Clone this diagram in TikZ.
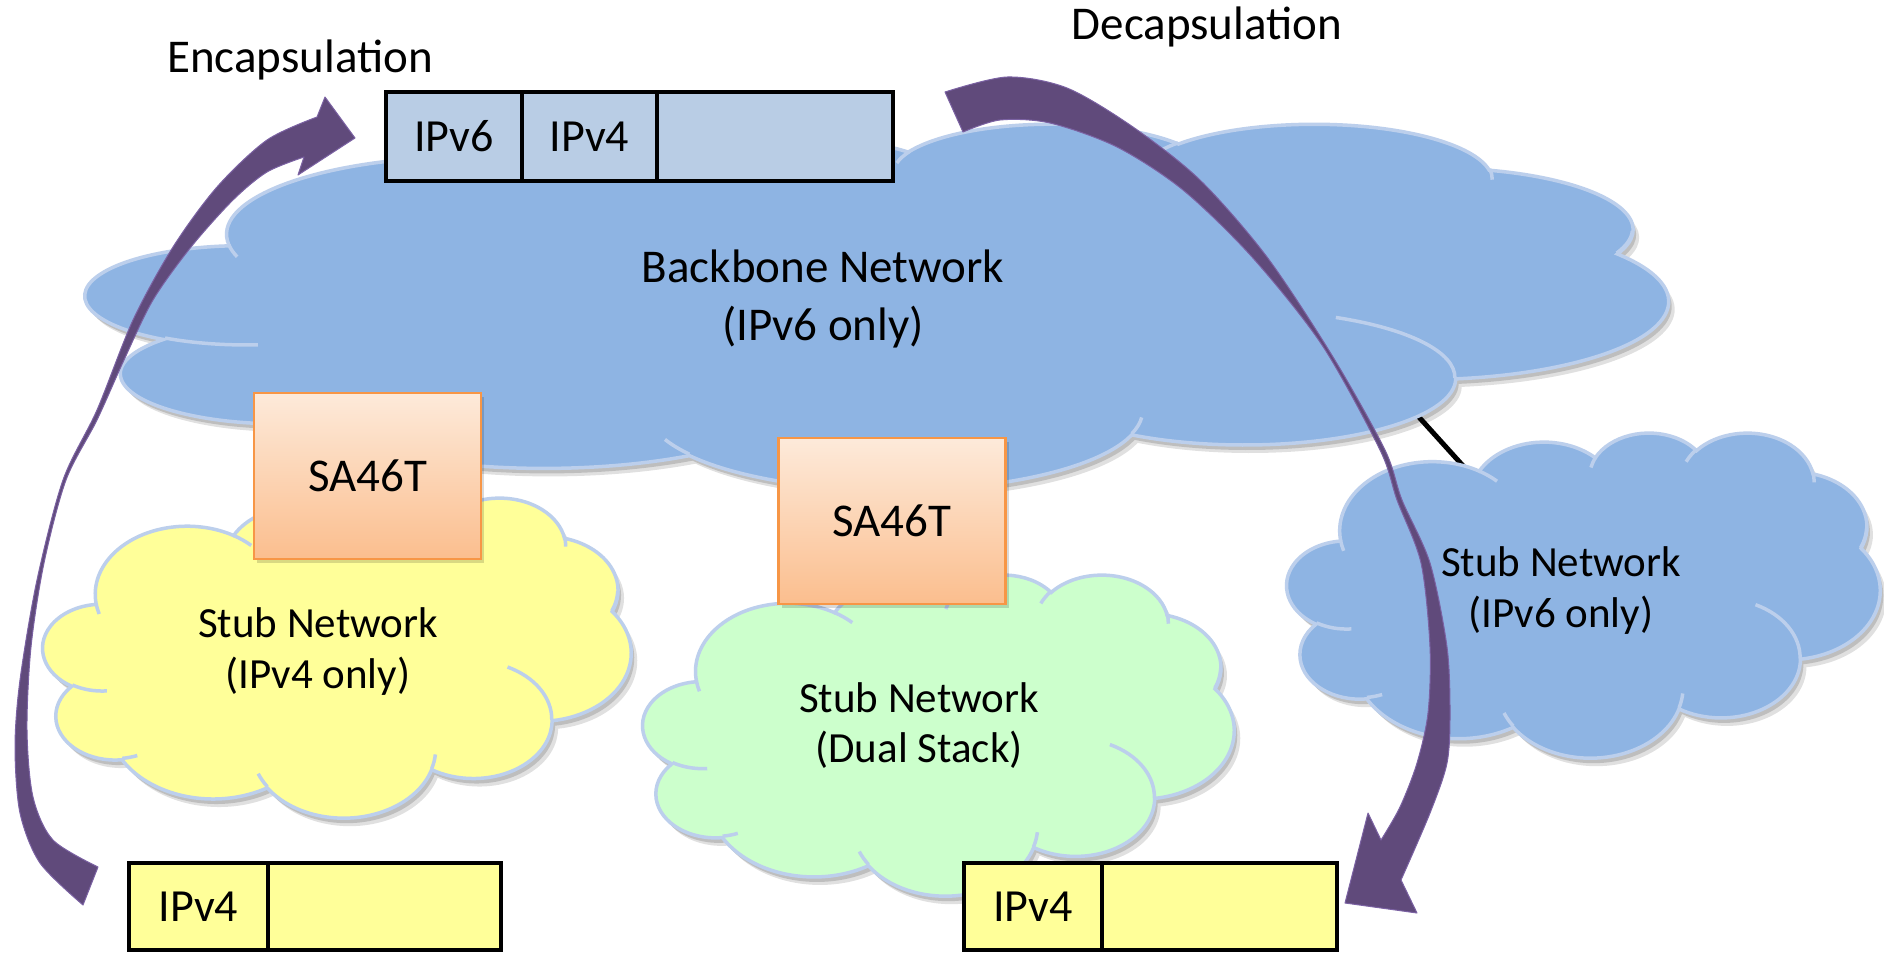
\documentclass[tikz,border=0pt]{standalone}
\usepackage{fontspec}
\setmainfont{Carlito}
\definecolor{cloudblue}{HTML}{8EB4E3}
\definecolor{cloudedge}{HTML}{BCCFEC}
\definecolor{stubyellow}{HTML}{FFFF99}
\definecolor{stubgreen}{HTML}{CCFFCC}
\definecolor{pktblue}{HTML}{B9CDE5}
\definecolor{arrowpurple}{HTML}{604A7B}
\definecolor{arrowedge}{HTML}{7B62A3}
\definecolor{saedge}{HTML}{F79646}
\definecolor{satop}{HTML}{FDEADA}
\definecolor{sabot}{HTML}{FBBE8E}

% elliptical arc in DrawingML style (visual angles -> parametric)
\newcommand\carc[4]{arc[x radius=#1, y radius=#2,
  start angle={atan2(#1*sin(#3),#2*cos(#3))},
  delta angle={mod(atan2(#1*sin(#3+#4),#2*cos(#3+#4))-atan2(#1*sin(#3),#2*cos(#3))+720,360)}]}
\newcommand\carcneg[4]{arc[x radius=#1, y radius=#2,
  start angle={atan2(#1*sin(#3),#2*cos(#3))},
  delta angle={-mod(atan2(#1*sin(#3),#2*cos(#3))-atan2(#1*sin(#3+#4),#2*cos(#3+#4))+720,360)}]}

\newcommand\cloudouter{(39.00,143.70)
 \carc{67.53}{91.90}{-190.4875}{123.7805}
 \carc{53.33}{72.67}{-144.1024}{89.9452}
 \carc{43.65}{59.45}{-145.8079}{99.7230}
 \carc{48.57}{65.95}{-130.9861}{117.2417}
 \carc{53.33}{72.73}{-78.7089}{109.0269}
 \carc{67.75}{92.20}{-46.2673}{130.2690}
 \carc{57.85}{78.67}{0.6250}{114.0333}
 \carc{67.52}{92.15}{22.4516}{115.1726}
 \carc{77.20}{105.43}{66.2426}{75.7110}
 \carc{43.60}{59.18}{-274.9421}{146.7356}
 \carc{43.45}{59.45}{-246.8285}{152.5189}
 -- cycle}
\newcommand\cloudinner{
 (46.93,261.77) \carc{43.45}{59.45}{86.7420}{26.4295}
 (69.28,348.99) \carc{43.60}{59.18}{73.6105}{11.4475}
 (164.78,390.90) \carc{67.52}{92.15}{137.6242}{14.0811}
 (288.27,347.51) \carc{67.52}{92.15}{6.4533}{15.9984}
 (341.29,229.54) \carc{57.85}{78.67}{-70.2924}{70.9174}
 (417.98,153.54) \carcneg{53.33}{72.73}{30.3180}{-27.7515}
 (383.24,54.26) \carc{48.57}{65.95}{-13.7443}{14.8589}
 (290.78,39.52) \carc{48.57}{65.95}{-149.1815}{18.1954}
 (221.41,47.20) \carc{43.65}{59.45}{-163.4943}{17.6864}
 (140.00,51.92) \carc{67.53}{91.90}{-66.7070}{12.3194}
 (41.27,157.89) \carc{67.53}{91.90}{157.6544}{11.8582}
}
% #1 x0, #2 y0, #3 width, #4 height, #5 fill colour
\newcommand\netcloud[5]{%
 \begin{scope}[shift={(#1,#2)}, xscale=#3/432, yscale=#4/432]
  \fill[black, opacity=0.12, shift={({6*432/#3},{8*432/#4})}] \cloudouter;
  \fill[black, opacity=0.15, shift={({3*432/#3},{5*432/#4})}] \cloudouter;
  \filldraw[fill=#5, draw=cloudedge, line width=1.4pt] \cloudouter;
  \draw[cloudedge, line width=1.4pt] \cloudinner;
 \end{scope}}

\tikzset{
 pktcell/.style={draw=black, line width=1.8pt, inner sep=0pt, font=\fontsize{18.4}{22}\selectfont},
 sabox/.style={draw=saedge, line width=1pt, top color=satop, bottom color=sabot,
   minimum width=90.8pt, minimum height=66.4pt, inner sep=0pt, font=\fontsize{18.8}{22}\selectfont,
   preaction={fill=black, opacity=0.15, transform canvas={xshift=1.2pt, yshift=-1.6pt}}},
 lbl/.style={font=\fontsize{18.8}{22}\selectfont, inner sep=0pt, anchor=base},
 stublbl/.style={font=\fontsize{17.2}{21}\selectfont, inner sep=0pt, anchor=base},
 bigarrow/.style={fill=arrowpurple, draw=arrowedge, line width=0.4pt, line join=round},
}

\begin{document}
\begin{tikzpicture}[x=0.4pt, y=-0.4pt]
\useasboundingbox (0,0) rectangle (1884,954);
\fill[white] (0,0) rectangle (1884,954);

% link between backbone and IPv6 stub (drawn beneath the clouds)
\coordinate (bbjoint) at (1408,405);
\coordinate (s6joint) at (1474,478);
\draw[black, line width=2pt] (bbjoint) -- (s6joint);

% clouds
\netcloud{86}{123}{1582}{366}{cloudblue}
\netcloud{43}{497}{588}{320}{stubyellow}
\netcloud{643}{574}{591}{321}{stubgreen}
\netcloud{1287}{432}{593}{325}{cloudblue}

% cloud labels
\node[lbl] (bb1) at (823,282) {Backbone Network};
\node[lbl] (bb2) at (823,340) {(IPv6 only)};
\node[stublbl] (y1) at (318,637) {Stub Network};
\node[stublbl] (y2) at (318,688) {(IPv4 only)};
\node[stublbl] (g1) at (919,712) {Stub Network};
\node[stublbl] (g2) at (919,762) {(Dual Stack)};
\node[stublbl] (s1) at (1561,576) {Stub Network};
\node[stublbl] (s2) at (1561,627) {(IPv6 only)};

% SA46T boxes
\node[sabox] (sa1) at (367.5,476) {SA46T};
\node[sabox] (sa2) at (892,521) {SA46T};

% packets
\node[pktcell, fill=pktblue, minimum width=54.4pt, minimum height=35.6pt] (t6) at (454,136.5) {IPv6};
\node[pktcell, fill=pktblue, minimum width=54pt, minimum height=35.6pt] (t4) at (589.5,136.5) {IPv4};
\node[pktcell, fill=pktblue, minimum width=94.4pt, minimum height=35.6pt] (tp) at (775,136.5) {};

\node[pktcell, fill=stubyellow, minimum width=55.6pt, minimum height=34.8pt] (bl4) at (198.5,906.5) {IPv4};
\node[pktcell, fill=stubyellow, minimum width=93.2pt, minimum height=34.8pt] (blp) at (384.5,906.5) {};
\node[pktcell, fill=stubyellow, minimum width=55.2pt, minimum height=34.8pt] (br4) at (1033,906.5) {IPv4};
\node[pktcell, fill=stubyellow, minimum width=94pt, minimum height=34.8pt] (brp) at (1219.5,906.5) {};

% titles
\node[lbl] (enc) at (300,72) {Encapsulation};
\node[lbl] (dec) at (1207,39) {Decapsulation};

% encapsulation arrow
\path[bigarrow] plot[smooth] coordinates {(83,905) (40,863) (20,813) (15,747) (20,680) (37,580) (63,480) (97,410) (133,320) (173,247) (217,187) (267,140) (317,117)}
  -- (325,97) -- (355,138) -- (298,175) -- (304,157)
  -- plot[smooth] coordinates {(304,157) (267,172) (233,200) (191,247) (153,300) (124,360) (97,420) (66,480) (44,563) (31,647) (27,730) (33,797) (53,840) (98,867)}
  -- cycle;

% decapsulation arrow
\path[bigarrow] plot[smooth] coordinates {(945,92) (1007,77) (1067,88) (1133,127) (1200,180) (1267,257) (1333,357) (1385,450) (1402,500) (1430,563) (1447,647) (1450,713) (1447,763) (1430,813) (1401,880)}
  -- (1417,913) -- (1345,903) -- (1368,813) -- (1381,840)
  -- plot[smooth] coordinates {(1381,840) (1400,807) (1417,763) (1428,713) (1430,647) (1421,563) (1397,500) (1380,450) (1322,345) (1252,257) (1183,190) (1117,147) (1050,123) (1000,120) (963,132)}
  -- cycle;
\end{tikzpicture}
\end{document}
